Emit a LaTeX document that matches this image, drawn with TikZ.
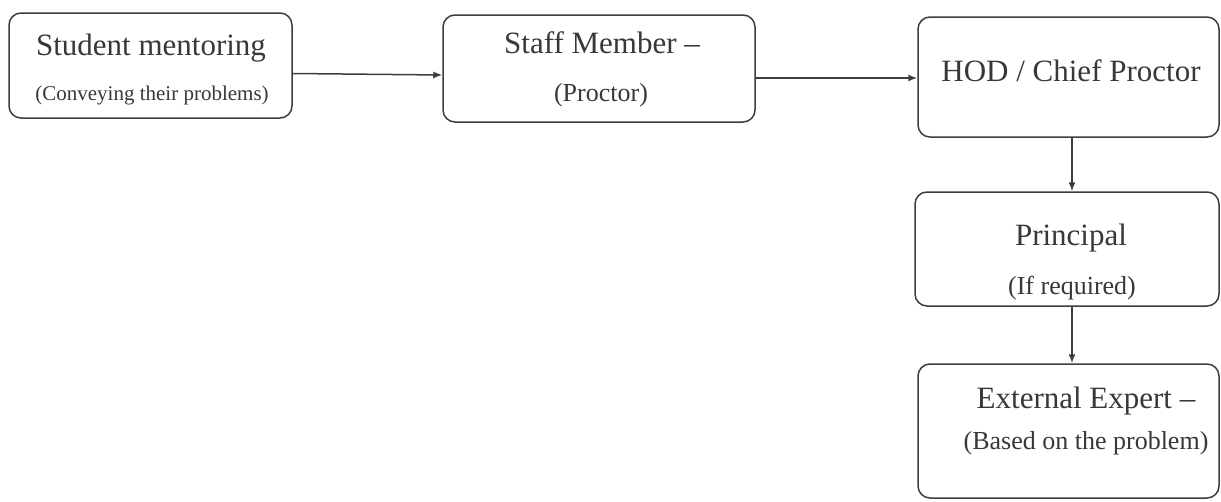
\documentclass[tikz,border=0pt]{standalone}
\usepackage{fontspec}
\setmainfont{Liberation Serif}
\usetikzlibrary{arrows.meta,calc}
\definecolor{ink}{HTML}{3A3D42}
\definecolor{txt}{HTML}{383838}
\tikzset{
  box/.style={draw=ink, line width=1.5pt, rounded corners=12pt, inner sep=0pt},
  big/.style={text=txt, font=\fontsize{31}{36}\selectfont, anchor=base, inner sep=0pt},
  small/.style={text=txt, font=\fontsize{26}{30}\selectfont, anchor=base, inner sep=0pt},
  tiny/.style={text=txt, font=\fontsize{21}{25}\selectfont, anchor=base, inner sep=0pt},
  conn/.style={draw=ink, line width=1.5pt, -{Latex[length=9pt,width=7pt]}}
}
\begin{document}
\begin{tikzpicture}[x=1pt,y=-1pt]
\useasboundingbox[fill=white] (0,0) rectangle (1221,501);
% boxes
\node[box, minimum width=283pt, minimum height=105pt] (b1) at (150.5,65.5) {};
\node[box, minimum width=312pt, minimum height=107pt] (b2) at (599,68.5) {};
\node[box, minimum width=301pt, minimum height=120pt] (b3) at (1068.5,77) {};
\node[box, minimum width=304pt, minimum height=114pt] (b4) at (1067,249) {};
\node[box, minimum width=301pt, minimum height=134pt] (b5) at (1068.5,431) {};
% texts
\node[big] (t1a) at (151,55) {Student mentoring};
\node[tiny] (t1b) at (152,100) {(Conveying their problems)};
\node[big] (t2a) at (602,53) {Staff Member --};
\node[small] (t2b) at (601,101) {(Proctor)};
\node[big] (t3a) at (1071,81) {HOD / Chief Proctor};
\node[big] (t4a) at (1071,245) {Principal};
\node[small] (t4b) at (1072,294) {(If required)};
\node[big] (t5a) at (1086,408) {External Expert --};
\node[small] (t5b) at (1086,449) {(Based on the problem)};
% connectors
\draw[conn] ($(b1.east)+(0,8)$) -- ($(b2.west)+(0,6.5)$);
\draw[conn] ($(b2.east)+(0,9.5)$) -- ($(b3.west)+(0,1)$);
\draw[conn] ($(b3.south)+(3.5,0)$) -- ($(b4.north)+(5,0)$);
\draw[conn] ($(b4.south)+(5,0)$) -- ($(b5.north)+(3.5,0)$);
\end{tikzpicture}
\end{document}
